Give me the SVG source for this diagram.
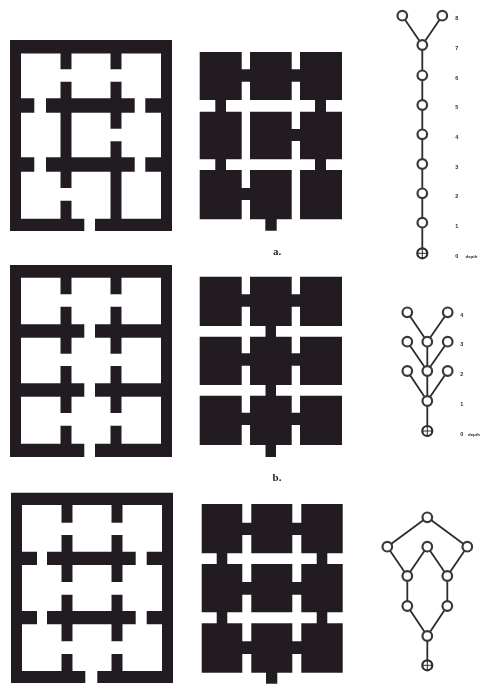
<svg xmlns="http://www.w3.org/2000/svg" width="480" height="684" viewBox="0 0 480 684">
<style>
.k{fill:#231f20}
.e{stroke:#2e2c2d;stroke-width:1.8;fill:none}
.n{fill:#fff;stroke:#3a3839;stroke-width:2.2}
.r{fill:#fff;stroke:#2e2c2d;stroke-width:2.2}
.x{stroke:#2e2c2d;stroke-width:1;fill:none}
.t{font-family:"Liberation Sans",sans-serif;font-size:5.5px;font-weight:bold;fill:#2e2c2d;text-anchor:middle}
.d{text-anchor:start;font-size:4.4px}
.c{font-family:"Liberation Serif",serif;font-size:11px;font-weight:bold;fill:#231f20;text-anchor:middle}
</style>
<defs>
<filter id="s" x="-5%" y="-5%" width="110%" height="110%"><feGaussianBlur stdDeviation="0.45"/></filter>
<filter id="b" x="-5%" y="-5%" width="110%" height="110%"><feGaussianBlur stdDeviation="0.55"/></filter>
</defs>
<rect width="480" height="684" fill="#fff"/>
<g id="maze-a" class="k" filter="url(#s)">
<path d="M10 40H172V231H95V218.7H161V53.5H21V218.7H84.3V231H10Z"/>
<path d="M60.5 53H71.5V69.3H60.5ZM110.5 53H121.5V69.3H110.5Z"/>
<path d="M20 98.3H34.3V112.7H20ZM20 157.3H34.3V171.7H20ZM145.3 98.3H162V112.7H145.3ZM145.3 157.3H162V171.7H145.3Z"/>
<path d="M46 98.3H134.7V112.7H46ZM46 157.3H134.7V171.7H46Z"/>
<path d="M60.5 81.7H71.5V188H60.5ZM110.5 81.7H121.5V128.7H110.5ZM110.5 141.3H121.5V219H110.5ZM60.5 200.7H71.5V219H60.5Z"/>
</g>
<g id="solid-a" class="k" filter="url(#s)">
<path d="M199.7 52H241.7V100H199.7ZM250 52H291.7V100H250ZM300 52H342V100H300Z"/>
<path d="M199.7 111.7H241.7V159.3H199.7ZM250 111.7H291.7V159.3H250ZM300 111.7H342V159.3H300Z"/>
<path d="M199.7 170H241.7V219.3H199.7ZM250 170H291.7V219.3H250ZM300 170H342V219.3H300Z"/>
<path d="M241 69.3H251V81.7H241ZM291 69.3H301V81.7H291ZM291 129H301V141H291ZM241 188H251V200H241Z"/>
<path d="M215.3 99H226V112.5H215.3ZM315 99H326V112.5H315ZM215.3 158.5H226V171H215.3ZM315 158.5H326V171H315ZM265.3 218H276.7V230.7H265.3Z"/>
</g>
<text x="277" y="255" class="c" filter="url(#s)">a.</text>

<g id="maze-b" class="k" filter="url(#s)">
<path d="M10 265H172V457H95V443.7H161V277.7H21V443.7H84.3V457H10Z"/>
<path d="M60.5 277H71.5V294.3H60.5ZM110.5 277H121.5V294.3H110.5Z"/>
<path d="M20 324.3H84.3V337.7H20ZM95 324.3H162V337.7H95ZM20 383.3H84.3V396.7H20ZM95 383.3H162V396.7H95Z"/>
<path d="M60.5 306.7H71.5V353.7H60.5ZM110.5 306.7H121.5V353.7H110.5ZM60.5 366H71.5V413H60.5ZM110.5 366H121.5V413H110.5ZM60.5 425.7H71.5V444H60.5ZM110.5 425.7H121.5V444H110.5Z"/>
</g>
<g id="solid-b" class="k" filter="url(#s)">
<path d="M199.7 276.7H241.7V326H199.7ZM250 276.7H291.7V326H250ZM300 276.7H342V326H300Z"/>
<path d="M199.7 336.7H241.7V385H199.7ZM250 336.7H291.7V385H250ZM300 336.7H342V385H300Z"/>
<path d="M199.7 395.7H241.7V445H199.7ZM250 395.7H291.7V445H250ZM300 395.7H342V445H300Z"/>
<path d="M241 294.3H251V306.7H241ZM291 294.3H301V306.7H291ZM241 353.3H251V365.7H241ZM291 353.3H301V365.7H291ZM241 412.7H251V425H241ZM291 412.7H301V425H291Z"/>
<path d="M265.5 325H276V338H265.5ZM265.5 384H276V397H265.5ZM265.5 444H276V457H265.5Z"/>
</g>
<text x="277" y="481" class="c" filter="url(#s)">b.</text>

<g id="maze-c" class="k" filter="url(#s)">
<path d="M11 492.7H173V683H97.3V671H162V505H22V671H85.3V683H11Z"/>
<path d="M61.5 504H72.5V522.7H61.5ZM111.5 504H122.5V522.7H111.5Z"/>
<path d="M21 551.7H37V565H21ZM21 611H37V624.3H21ZM146.7 551.7H163V565H146.7ZM146.7 611H163V624.3H146.7Z"/>
<path d="M47 551.7H135.7V565H47ZM47 611H135.7V624.3H47Z"/>
<path d="M61.5 535H72.5V582H61.5ZM111.5 535H122.5V582H111.5ZM61.5 594.7H72.5V641.3H61.5ZM111.5 594.7H122.5V641.3H111.5ZM61.5 654H72.5V672H61.5ZM111.5 654H122.5V672H111.5Z"/>
</g>
<g id="solid-c" class="k" filter="url(#s)">
<path d="M201.7 504H242.3V553.3H201.7ZM251.3 504H292.3V553.3H251.3ZM301.3 504H342.7V553.3H301.3Z"/>
<path d="M201.7 564H242.3V612.3H201.7ZM251.3 564H292.3V612.3H251.3ZM301.3 564H342.7V612.3H301.3Z"/>
<path d="M201.7 623.3H242.3V672.7H201.7ZM251.3 623.3H292.3V672.7H251.3ZM301.3 623.3H342.7V672.7H301.3Z"/>
<path d="M242 522.7H252V535H242ZM292 522.7H302V535H292ZM242 582H252V594.7H242ZM292 582H302V594.7H292ZM242 641.3H252V654H242ZM292 641.3H302V654H292Z"/>
<path d="M216.7 553H227.3V564.5H216.7ZM316.7 553H327.3V564.5H316.7ZM216.7 612H227.3V624H216.7ZM316.7 612H327.3V624H316.7ZM266 672H277.3V683.7H266Z"/>
</g>

<g id="connectors" class="e" filter="url(#b)">
<path d="M402.3 15.7L422.3 45M442.3 15.7L422.3 45M422.3 45V253.3"/>
<path d="M407.3 312.3L427.3 341.7M447.7 312.3L427.3 341.7M407.3 341.7L427.3 371M447.7 341.7L427.3 371M407.3 371L427.3 401M447.7 371L427.3 401M427.3 341.7V431"/>
<path d="M427.3 517.3L387.3 546.7M427.3 517.3L467.3 546.7M387.3 546.7L407.3 576M427.3 546.7L407.3 576M427.3 546.7L447.3 576M467.3 546.7L447.3 576M407.3 576V606M447.3 576V606M407.3 606L427.3 636M447.3 606L427.3 636M427.3 636V665.3"/>
</g>

<g filter="url(#b)">
<g id="a-8l"><circle class="n" cx="402.3" cy="15.7" r="4.8"/></g>
<g id="a-8r"><circle class="n" cx="442.3" cy="15.7" r="4.8"/></g>
<g id="a-7"><circle class="n" cx="422.3" cy="45" r="4.8"/></g>
<g id="a-6"><circle class="n" cx="422.3" cy="75.3" r="4.8"/></g>
<g id="a-5"><circle class="n" cx="422.3" cy="105" r="4.8"/></g>
<g id="a-4"><circle class="n" cx="422.3" cy="134.3" r="4.8"/></g>
<g id="a-3"><circle class="n" cx="422.3" cy="164" r="4.8"/></g>
<g id="a-2"><circle class="n" cx="422.3" cy="193.3" r="4.8"/></g>
<g id="a-1"><circle class="n" cx="422.3" cy="222.7" r="4.8"/></g>
<g id="a-0"><circle class="r" cx="422.3" cy="253.3" r="5"/><path class="x" d="M417.3 253.3H427.3M422.3 248.3V258.3"/></g>

<g id="b-4l"><circle class="n" cx="407.3" cy="312.3" r="4.8"/></g>
<g id="b-4r"><circle class="n" cx="447.7" cy="312.3" r="4.8"/></g>
<g id="b-3l"><circle class="n" cx="407.3" cy="341.7" r="4.8"/></g>
<g id="b-3m"><circle class="n" cx="427.3" cy="341.7" r="4.8"/></g>
<g id="b-3r"><circle class="n" cx="447.7" cy="341.7" r="4.8"/></g>
<g id="b-2l"><circle class="n" cx="407.3" cy="371" r="4.8"/></g>
<g id="b-2m"><circle class="n" cx="427.3" cy="371" r="4.8"/></g>
<g id="b-2r"><circle class="n" cx="447.7" cy="371" r="4.8"/></g>
<g id="b-1"><circle class="n" cx="427.3" cy="401" r="4.8"/></g>
<g id="b-0"><circle class="r" cx="427.3" cy="431" r="5"/><path class="x" d="M422.3 431H432.3M427.3 426V436"/></g>

<g id="c-top"><circle class="n" cx="427.3" cy="517.3" r="4.8"/></g>
<g id="c-l"><circle class="n" cx="387.3" cy="546.7" r="4.8"/></g>
<g id="c-m"><circle class="n" cx="427.3" cy="546.7" r="4.8"/></g>
<g id="c-r"><circle class="n" cx="467.3" cy="546.7" r="4.8"/></g>
<g id="c-2l"><circle class="n" cx="407.3" cy="576" r="4.8"/></g>
<g id="c-2r"><circle class="n" cx="447.3" cy="576" r="4.8"/></g>
<g id="c-1l"><circle class="n" cx="407.3" cy="606" r="4.8"/></g>
<g id="c-1r"><circle class="n" cx="447.3" cy="606" r="4.8"/></g>
<g id="c-b"><circle class="n" cx="427.3" cy="636" r="4.8"/></g>
<g id="c-0"><circle class="r" cx="427.3" cy="665.3" r="5"/><path class="x" d="M422.3 665.3H432.3M427.3 660.3V670.3"/></g>
</g>

<g id="depth-labels" filter="url(#s)">
<text class="t" x="456.7" y="20">8</text>
<text class="t" x="456.7" y="49.5">7</text>
<text class="t" x="456.7" y="79.5">6</text>
<text class="t" x="456.7" y="109">5</text>
<text class="t" x="456.7" y="139">4</text>
<text class="t" x="456.7" y="168.5">3</text>
<text class="t" x="456.7" y="198">2</text>
<text class="t" x="456.7" y="228">1</text>
<text class="t" x="456.7" y="258">0</text>
<text class="t d" x="465.5" y="258">depth</text>
<text class="t" x="461.7" y="317">4</text>
<text class="t" x="461.7" y="346">3</text>
<text class="t" x="461.7" y="375.5">2</text>
<text class="t" x="461.7" y="405.5">1</text>
<text class="t" x="461.7" y="435.5">0</text>
<text class="t d" x="468" y="435.5">depth</text>
</g>
</svg>
